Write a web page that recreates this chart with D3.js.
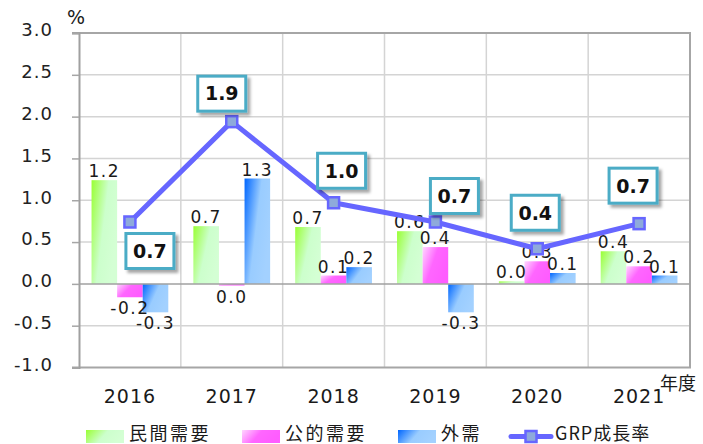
<!DOCTYPE html>
<html>
<head>
<meta charset="utf-8">
<script src="https://cdn.jsdelivr.net/npm/d3@7"></script>
<style>
  body { margin: 0; background: #fff; }
  svg { display: block; }
</style>
</head>
<body>
<svg id="chart" width="703" height="444"></svg>
<script>
// --- data ---
const years = ["2016", "2017", "2018", "2019", "2020", "2021"];
const seriesNames = ["民間需要", "公的需要", "外需"];
const privateDemand = [1.24, 0.69, 0.68, 0.63, 0.03, 0.39];
const publicDemand = [-0.16, -0.02, 0.10, 0.44, 0.27, 0.21];
const externalDemand = [-0.34, 1.26, 0.20, -0.34, 0.13, 0.10];
const grpGrowth = [0.74, 1.94, 0.97, 0.74, 0.42, 0.72];
const yTicks = [-1.0, -0.5, 0.0, 0.5, 1.0, 1.5, 2.0, 2.5, 3.0];
const lineName = "GRP成長率";

// callout box offsets from each line marker (layout only)
const calloutOffset = [[20, 29], [-10, -28], [8, -32], [19, -26], [-2, -36], [-6, -38]];

// --- 1. Setup ---
const plot = { left: 79, right: 690, top: 33, bottom: 367.5 };
const svg = d3.select("#chart");
const font = "'DejaVu Sans', Verdana, sans-serif";
const cjkFont = "'Noto Sans CJK JP', 'DejaVu Sans', sans-serif";

const defs = svg.append("defs");

// bar gradients (diagonal, bright corner at top-left)
const gradients = [
    { id: "g-private", stops: [[0, "#99ff33"], [0.55, "#ccffcc"], [1, "#d4ffd4"]] },
    { id: "g-public", stops: [[0, "#ffd6ff"], [0.5, "#ff66ff"], [1, "#ff5cff"]] },
    { id: "g-external", stops: [[0, "#0066ff"], [0.55, "#99ccff"], [1, "#a3d1ff"]] }
];
gradients.forEach(g => {
    const lg = defs.append("linearGradient")
        .attr("id", g.id)
        .attr("x1", 0).attr("y1", 0).attr("x2", 1).attr("y2", 0.5);
    lg.selectAll("stop").data(g.stops).join("stop")
        .attr("offset", d => d[0])
        .attr("stop-color", d => d[1]);

    // flatter version for the legend swatches
    const lh = defs.append("linearGradient")
        .attr("id", g.id + "-h")
        .attr("x1", 0).attr("y1", 0).attr("x2", 1).attr("y2", 0.3);
    lh.selectAll("stop").data(g.stops).join("stop")
        .attr("offset", d => d[0])
        .attr("stop-color", d => d[1]);
});

const shadow = defs.append("filter").attr("id", "shadow")
    .attr("x", "-30%").attr("y", "-30%").attr("width", "170%").attr("height", "170%");
shadow.append("feDropShadow")
    .attr("dx", 3).attr("dy", 3).attr("stdDeviation", 1.6)
    .attr("flood-color", "#000").attr("flood-opacity", 0.35);

// --- 2. Scales ---
const x = d3.scaleBand().domain(years).range([plot.left, plot.right]).paddingInner(0).paddingOuter(0);
const xSub = d3.scaleBand().domain(seriesNames).range([0, x.bandwidth()]).paddingInner(0).paddingOuter(0.49);
const y = d3.scaleLinear().domain([-1, 3]).range([plot.bottom, plot.top]);

// --- 3. Grid ---
svg.append("g")
    .selectAll("line")
    .data(yTicks.filter(t => t !== 0 && t !== 3 && t !== -1))
    .join("line")
    .attr("x1", plot.left).attr("x2", plot.right)
    .attr("y1", d => y(d)).attr("y2", d => y(d))
    .attr("stroke", "#d4d4d4").attr("stroke-width", 1.5);

svg.append("g")
    .selectAll("line")
    .data(years.slice(1))
    .join("line")
    .attr("x1", d => x(d)).attr("x2", d => x(d))
    .attr("y1", plot.top).attr("y2", plot.bottom)
    .attr("stroke", "#d4d4d4").attr("stroke-width", 1.5);

// plot border (top, right, bottom)
svg.append("path")
    .attr("d", `M${plot.left - 7},${plot.top}H${plot.right}V${plot.bottom}H${plot.left - 7}`)
    .attr("fill", "none").attr("stroke", "#a6a6a6").attr("stroke-width", 2);

// --- 4. Bars ---
const seriesData = [privateDemand, publicDemand, externalDemand];
const fills = ["url(#g-private)", "url(#g-public)", "url(#g-external)"];

const fmt = v => Math.abs(v) < 0.05 ? "0.0" : d3.format(".1f")(v).replace("−", "-");

seriesData.forEach((vals, si) => {
    const name = seriesNames[si];
    const rows = years.map((yr, i) => ({ yr, v: vals[i] }));
    svg.append("g")
        .selectAll("rect")
        .data(rows)
        .join("rect")
        .attr("x", d => x(d.yr) + xSub(name))
        .attr("y", d => y(Math.max(0, d.v)))
        .attr("width", xSub.bandwidth())
        .attr("height", d => Math.abs(y(d.v) - y(0)))
        .attr("fill", fills[si]);
});

// zero line and left axis with outside ticks
svg.append("line")
    .attr("x1", plot.left).attr("x2", plot.right)
    .attr("y1", y(0)).attr("y2", y(0))
    .attr("stroke", "#a0a0a0").attr("stroke-width", 1.5);

const yAxis = svg.append("g")
    .attr("transform", `translate(${plot.left},0)`)
    .call(d3.axisLeft(y).tickValues(yTicks).tickSize(7).tickPadding(19).tickFormat(d3.format(".1f")));
yAxis.select(".domain").attr("stroke", "#a0a0a0").attr("stroke-width", 2);
yAxis.selectAll(".tick line").attr("stroke", "#a6a6a6").attr("stroke-width", 1.5);
yAxis.selectAll(".tick text")
    .attr("dy", "0.32em").attr("y", -3)
    .style("font-family", font).style("font-size", "18px")
    .style("letter-spacing", "1px").attr("fill", "#222")
    .text(d => d3.format(".1f")(d).replace("−", "-"));

// bar value labels
seriesData.forEach((vals, si) => {
    const name = seriesNames[si];
    const rows = years.map((yr, i) => ({ yr, v: vals[i] }));
    svg.append("g")
        .selectAll("text")
        .data(rows)
        .join("text")
        .attr("x", d => x(d.yr) + xSub(name) + xSub.bandwidth() / 2)
        .attr("y", d => d.v >= 0 ? y(d.v) - 3 : y(d.v) + 17)
        .attr("text-anchor", "middle")
        .style("font-family", font).style("font-size", "17px")
        .style("letter-spacing", "1.5px")
        .attr("fill", "#1a1a1a")
        .text(d => fmt(d.v));
});

// x axis labels
svg.append("g")
    .selectAll("text")
    .data(years)
    .join("text")
    .attr("x", d => x(d) + x.bandwidth() / 2)
    .attr("y", 402.5)
    .attr("text-anchor", "middle")
    .style("font-family", font).style("font-size", "19px")
    .style("letter-spacing", "1px")
    .attr("fill", "#1a1a1a")
    .text(d => d);

svg.append("text")
    .attr("x", 660).attr("y", 390)
    .style("font-family", cjkFont).style("font-size", "18px")
    .attr("fill", "#1a1a1a")
    .text("年度");

svg.append("text")
    .attr("x", 76).attr("y", 24).attr("text-anchor", "middle")
    .style("font-family", font).style("font-size", "19px")
    .attr("fill", "#1a1a1a")
    .text("%");

// --- 5. GRP line ---
const cx = yr => x(yr) + x.bandwidth() / 2;
const linePts = years.map((yr, i) => ({ yr, v: grpGrowth[i], off: calloutOffset[i] }));

svg.append("path")
    .datum(linePts)
    .attr("d", d3.line().x(d => cx(d.yr)).y(d => y(d.v)))
    .attr("fill", "none").attr("stroke", "#6666ff").attr("stroke-width", 5)
    .attr("stroke-linejoin", "round");

svg.append("g")
    .selectAll("rect")
    .data(linePts)
    .join("rect")
    .attr("x", d => cx(d.yr) - 5.5).attr("y", d => y(d.v) - 5.5)
    .attr("width", 11).attr("height", 11)
    .attr("fill", "#8eaadb").attr("stroke", "#6666ff").attr("stroke-width", 2.5);

// callout boxes
const boxW = 48, boxH = 35;
const callouts = svg.append("g")
    .selectAll("g")
    .data(linePts)
    .join("g")
    .attr("transform", d => `translate(${cx(d.yr) + d.off[0]},${y(d.v) + d.off[1]})`);

callouts.append("rect")
    .attr("x", -boxW / 2).attr("y", -boxH / 2)
    .attr("width", boxW).attr("height", boxH)
    .attr("fill", "#fff").attr("stroke", "#4bacc6").attr("stroke-width", 3)
    .attr("filter", "url(#shadow)");

callouts.append("text")
    .attr("text-anchor", "middle").attr("dy", "0.36em")
    .style("font-family", font).style("font-size", "19px").style("font-weight", "bold")
    .attr("fill", "#111")
    .text(d => fmt(d.v));

// --- 6. Legend ---
const legend = svg.append("g");
const legendItems = [
    { name: seriesNames[0], fill: "url(#g-private-h)", sx: 86, tx: 129 },
    { name: seriesNames[1], fill: "url(#g-public-h)", sx: 242, tx: 285 },
    { name: seriesNames[2], fill: "url(#g-external-h)", sx: 398, tx: 441 }
];
legendItems.forEach(it => {
    legend.append("rect")
        .attr("x", it.sx).attr("y", 430).attr("width", 38).attr("height", 13)
        .attr("fill", it.fill);
    legend.append("text")
        .attr("x", it.tx).attr("y", 432).attr("dominant-baseline", "central")
        .style("font-family", cjkFont).style("font-size", "18px").style("letter-spacing", "2.5px")
        .attr("fill", "#1a1a1a")
        .text(it.name);
});

legend.append("line")
    .attr("x1", 511).attr("x2", 551).attr("y1", 436.5).attr("y2", 436.5)
    .attr("stroke", "#6666ff").attr("stroke-width", 5).attr("stroke-linecap", "round");
legend.append("rect")
    .attr("x", 525.5).attr("y", 431).attr("width", 11).attr("height", 11)
    .attr("fill", "#8eaadb").attr("stroke", "#6666ff").attr("stroke-width", 2.5);
legend.append("text")
    .attr("x", 555).attr("y", 432).attr("dominant-baseline", "central")
    .style("font-family", cjkFont).style("font-size", "18px").style("letter-spacing", "1px")
    .attr("fill", "#1a1a1a")
    .text(lineName);
</script>
</body>
</html>
